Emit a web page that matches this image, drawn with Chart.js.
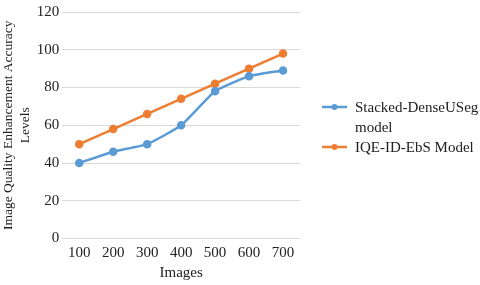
<!DOCTYPE html>
<html>
<head>
<meta charset="utf-8">
<script src="https://cdn.jsdelivr.net/npm/chart.js@4/dist/chart.umd.min.js"></script>
<style>
  body { margin: 0; background: #fff; }
  #wrap { width: 480px; height: 285px; }
</style>
</head>
<body>
<div id="wrap"><canvas id="chart"></canvas></div>
<script>
const categories = ["100", "200", "300", "400", "500", "600", "700"];
const stackedValues = [40, 46, 50, 60, 78, 86, 89];
const iqeValues = [50, 58, 66, 74, 82, 90, 98];
const yTicks = [0, 20, 40, 60, 80, 100, 120];
const legendLines = [["Stacked-DenseUSeg", "model"], ["IQE-ID-EbS Model"]];

const blue = "#5b9bd5";
const orange = "#ed7d31";
const serif = "'Liberation Serif', 'Times New Roman', serif";

// legend drawn by hand so the long label can wrap like the original
const sideLegend = {
  id: "sideLegend",
  afterDraw(chart) {
    const g = chart.ctx;
    const x0 = chart.chartArea.right + 22;
    let y = 108;
    g.save();
    g.font = "15px " + serif;
    g.textBaseline = "middle";
    chart.data.datasets.forEach((ds, i) => {
      const lines = legendLines[i];
      g.strokeStyle = ds.borderColor;
      g.lineWidth = 2.5;
      g.beginPath();
      g.moveTo(x0, y - 1);
      g.lineTo(x0 + 25, y - 1);
      g.stroke();
      g.fillStyle = ds.borderColor;
      g.beginPath();
      g.arc(x0 + 12.5, y - 1, 3, 0, Math.PI * 2);
      g.fill();
      g.fillStyle = "#222";
      lines.forEach((t, k) => g.fillText(t, x0 + 33, y + k * 20));
      y += lines.length * 20;
    });
    g.restore();
  },
};

const ctx = document.getElementById("chart");
new Chart(ctx, {
  type: "line",
  data: {
    labels: categories,
    datasets: [
      {
        label: "Stacked-DenseUSeg model",
        data: stackedValues,
        borderColor: blue,
        backgroundColor: blue,
        borderWidth: 2.5,
        pointRadius: 3,
        tension: 0.15,
      },
      {
        label: "IQE-ID-EbS Model",
        data: iqeValues,
        borderColor: orange,
        backgroundColor: orange,
        borderWidth: 2.5,
        pointRadius: 3,
        tension: 0,
      },
    ],
  },
  options: {
    responsive: true,
    maintainAspectRatio: false,
    animation: false,
    layout: { padding: { top: 0, right: 180, bottom: 0, left: 0 } },
    plugins: {
      tooltip: { enabled: false },
      legend: { display: false },
    },
    scales: {
      x: {
        offset: true,
        grid: { display: false, drawTicks: false },
        border: { display: false },
        ticks: { color: "#222", font: { family: serif, size: 15 }, padding: 6 },
        title: {
          display: true,
          text: "Images",
          color: "#222",
          font: { family: serif, size: 15, lineHeight: 1.1 },
          padding: { top: -4, bottom: 4 },
        },
      },
      y: {
        min: 0,
        max: 120,
        afterBuildTicks: (axis) => {
          axis.ticks = yTicks.map((v) => ({ value: v }));
        },
        grid: { color: "#d9d9d9", drawTicks: false },
        border: { display: false },
        ticks: { color: "#222", font: { family: serif, size: 15 }, padding: 3 },
        title: {
          display: true,
          text: ["Image Quality Enhancement Accuracy", "Levels"],
          color: "#222",
          font: { family: serif, size: 13.5, lineHeight: 1.25 },
          padding: { top: 0, bottom: 0 },
        },
      },
    },
  },
  plugins: [sideLegend],
});
</script>
</body>
</html>
